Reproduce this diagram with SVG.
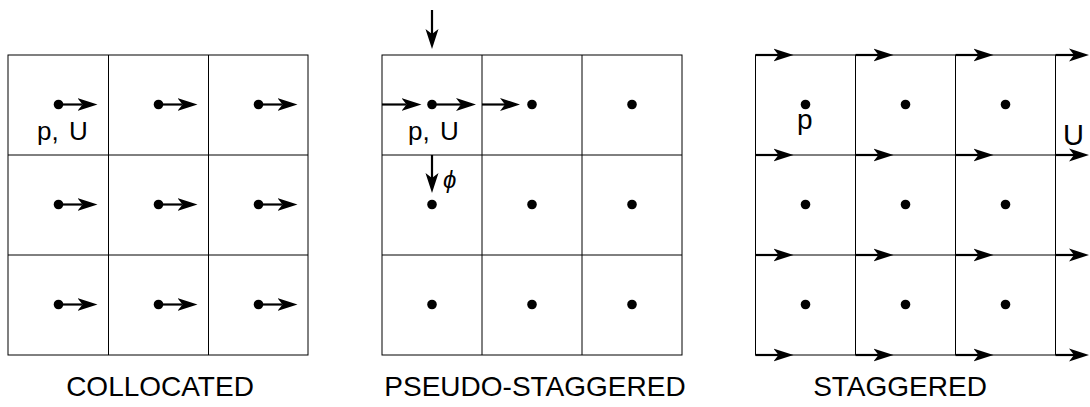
<svg xmlns="http://www.w3.org/2000/svg" width="1090" height="407" viewBox="0 0 1090 407">
  <style>
    .grid { fill: none; stroke: #000; stroke-width: 1; }
    .vec { stroke: #000; stroke-width: 2.2; fill: none; marker-end: url(#ah); }
    .dot { fill: #000; }
    .lbl { font-family: "Liberation Sans", Arial, Helvetica, sans-serif; fill: #000; }
    .title { font-size: 28px; text-anchor: middle; }
  </style>
  <defs>
    <!-- barbed arrowhead; the shaft ends at the notch -->
    <marker id="ah" viewBox="0 0 20 14" markerWidth="20" markerHeight="14" refX="5" refY="7" orient="auto" markerUnits="userSpaceOnUse">
      <path d="M0,0.5 L20,7 L0,13.5 L5,7 Z" fill="#000"/>
    </marker>
  </defs>

  <!-- COLLOCATED grid -->
  <g id="collocated">
    <rect class="grid" x="8" y="55" width="300" height="300"/>
    <path class="grid" d="M108.5,55 V355 M208.5,55 V355 M8,155 H308 M8,255 H308"/>
    <g id="collocated-points">
      <circle class="dot" cx="58.5" cy="104.5" r="4.8"/>
      <circle class="dot" cx="158.5" cy="104.5" r="4.8"/>
      <circle class="dot" cx="258.5" cy="104.5" r="4.8"/>
      <circle class="dot" cx="58.5" cy="204.5" r="4.8"/>
      <circle class="dot" cx="158.5" cy="204.5" r="4.8"/>
      <circle class="dot" cx="258.5" cy="204.5" r="4.8"/>
      <circle class="dot" cx="58.5" cy="304.5" r="4.8"/>
      <circle class="dot" cx="158.5" cy="304.5" r="4.8"/>
      <circle class="dot" cx="258.5" cy="304.5" r="4.8"/>
    </g>
    <text class="lbl" x="37" y="140" font-size="26" word-spacing="3">p, U</text>
    <text class="lbl title" x="160" y="396">COLLOCATED</text>
  </g>

  <!-- PSEUDO-STAGGERED grid -->
  <g id="pseudo-staggered">
    <rect class="grid" x="382" y="55" width="300" height="300"/>
    <path class="grid" d="M482,55 V355 M582,55 V355 M382,155 H682 M382,255 H682"/>
    <g id="pseudo-points">
      <circle class="dot" cx="432" cy="104.5" r="4.8"/>
      <circle class="dot" cx="532" cy="104.5" r="4.8"/>
      <circle class="dot" cx="632" cy="104.5" r="4.8"/>
      <circle class="dot" cx="432" cy="204.5" r="4.8"/>
      <circle class="dot" cx="532" cy="204.5" r="4.8"/>
      <circle class="dot" cx="632" cy="204.5" r="4.8"/>
      <circle class="dot" cx="432" cy="304.5" r="4.8"/>
      <circle class="dot" cx="532" cy="304.5" r="4.8"/>
      <circle class="dot" cx="632" cy="304.5" r="4.8"/>
    </g>
    <text class="lbl" x="408" y="140" font-size="26" word-spacing="3">p, U</text>
    <text class="lbl" x="443" y="188" font-size="24" font-style="italic" font-family="'Liberation Serif', serif">ϕ</text>
    <text class="lbl title" x="535" y="396">PSEUDO-STAGGERED</text>
  </g>

  <!-- STAGGERED grid -->
  <g id="staggered">
    <rect class="grid" x="755.5" y="55" width="300" height="300"/>
    <path class="grid" d="M855.5,55 V355 M955.5,55 V355 M755.5,155 H1055.5 M755.5,255 H1055.5"/>
    <g id="staggered-points">
      <circle class="dot" cx="805.5" cy="104.5" r="4.8"/>
      <circle class="dot" cx="905.5" cy="104.5" r="4.8"/>
      <circle class="dot" cx="1005.5" cy="104.5" r="4.8"/>
      <circle class="dot" cx="805.5" cy="204.5" r="4.8"/>
      <circle class="dot" cx="905.5" cy="204.5" r="4.8"/>
      <circle class="dot" cx="1005.5" cy="204.5" r="4.8"/>
      <circle class="dot" cx="805.5" cy="304.5" r="4.8"/>
      <circle class="dot" cx="905.5" cy="304.5" r="4.8"/>
      <circle class="dot" cx="1005.5" cy="304.5" r="4.8"/>
    </g>
    <text class="lbl" x="797" y="129" font-size="28">p</text>
    <text class="lbl" x="1063" y="145" font-size="29">U</text>
    <text class="lbl title" x="900" y="396">STAGGERED</text>
  </g>

  <!-- velocity vectors -->
  <g id="connectors">
    <!-- collocated: velocity stored at each cell centre -->
    <path class="vec" d="M58.5,104.5 H82.5"/>
    <path class="vec" d="M158.5,104.5 H182.5"/>
    <path class="vec" d="M258.5,104.5 H282.5"/>
    <path class="vec" d="M58.5,204.5 H82.5"/>
    <path class="vec" d="M158.5,204.5 H182.5"/>
    <path class="vec" d="M258.5,204.5 H282.5"/>
    <path class="vec" d="M58.5,304.5 H82.5"/>
    <path class="vec" d="M158.5,304.5 H182.5"/>
    <path class="vec" d="M258.5,304.5 H282.5"/>

    <!-- pseudo-staggered: face fluxes around the first cell -->
    <path class="vec" d="M382,104.5 H406.5"/>
    <path class="vec" d="M432,104.5 H461"/>
    <path class="vec" d="M482,104.5 H505"/>
    <path class="vec" d="M432,10 V34"/>
    <path class="vec" d="M432,155 V178"/>

    <!-- staggered: velocities on cell faces -->
    <path class="vec" d="M755.5,55 H778.5"/>
    <path class="vec" d="M855.5,55 H878.5"/>
    <path class="vec" d="M955.5,55 H978.5"/>
    <path class="vec" d="M1055.5,55 H1074"/>
    <path class="vec" d="M755.5,155 H778.5"/>
    <path class="vec" d="M855.5,155 H878.5"/>
    <path class="vec" d="M955.5,155 H978.5"/>
    <path class="vec" d="M1055.5,155 H1074"/>
    <path class="vec" d="M755.5,255 H778.5"/>
    <path class="vec" d="M855.5,255 H878.5"/>
    <path class="vec" d="M955.5,255 H978.5"/>
    <path class="vec" d="M1055.5,255 H1074"/>
    <path class="vec" d="M755.5,355 H778.5"/>
    <path class="vec" d="M855.5,355 H878.5"/>
    <path class="vec" d="M955.5,355 H978.5"/>
    <path class="vec" d="M1055.5,355 H1074"/>
  </g>
</svg>
